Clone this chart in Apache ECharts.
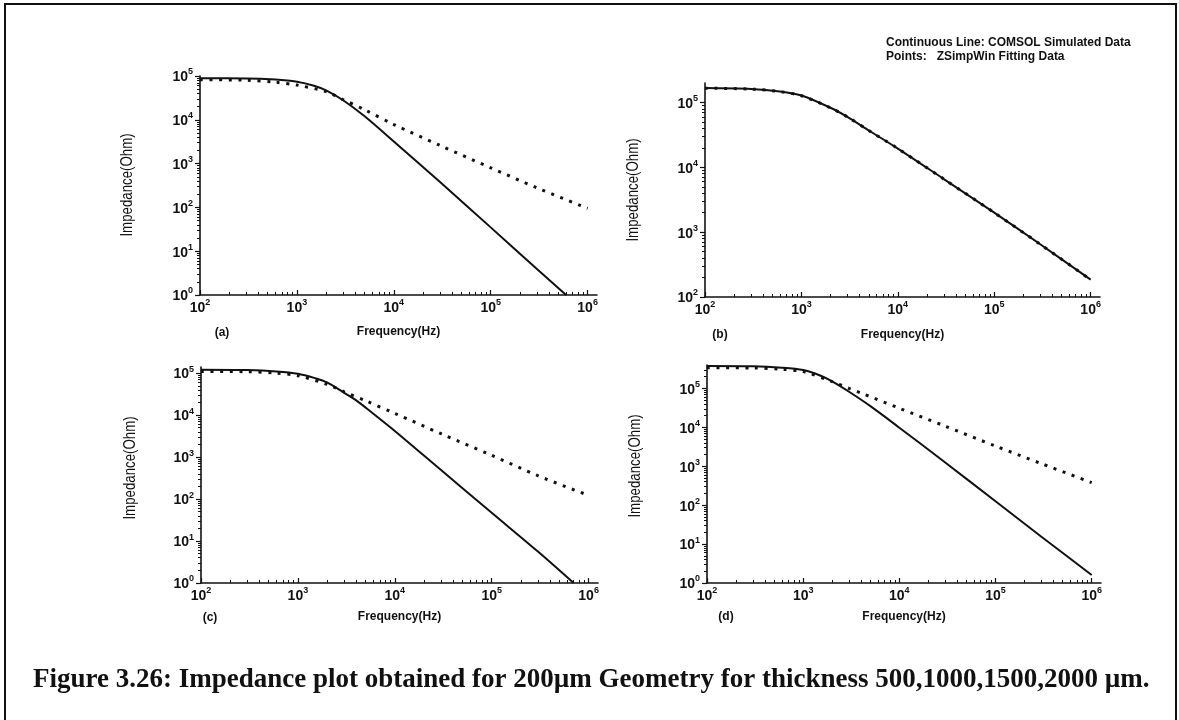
<!DOCTYPE html>
<html>
<head>
<meta charset="utf-8">
<script src="https://cdn.jsdelivr.net/npm/echarts@6/dist/echarts.min.js"></script>
<style>
  html, body { margin: 0; padding: 0; background: #fff; }
  #chart { width: 1179px; height: 720px; }
</style>
</head>
<body>
<div id="chart"></div>
<script>
// Impedance magnitude vs frequency, four electrode thicknesses (a)-(d).
// "sim" = COMSOL simulated (continuous line), "fit" = ZSimpWin fitting data (points).

// Panel (a)
const freqA_sim = [100, 300, 600, 1000, 1500, 2000, 3000, 5000, 10000, 30000, 100000, 300000, 600000];
const zA_sim    = [88500, 88000, 83000, 74000, 60000, 47000, 28000, 12000, 3200, 380, 35, 3.9, 1];
const freqA_fit = [100, 300, 600, 1000, 2000, 3000, 5000, 10000, 30000, 100000, 300000, 1000000];
const zA_fit    = [82000, 80000, 72000, 62000, 44000, 29000, 17000, 7800, 2600, 800, 280, 95];

// Panel (b)
const freqB_sim = [100, 300, 600, 1000, 2000, 3000, 5000, 10000, 30000, 100000, 300000, 1000000];
const zB_sim    = [167000, 162000, 148000, 128000, 83000, 60000, 37000, 19500, 6600, 2000, 650, 185];
const freqB_fit = [100, 300, 600, 1000, 2000, 3000, 5000, 10000, 30000, 100000, 300000, 1000000];
const zB_fit    = [166000, 161000, 147000, 127000, 83000, 60000, 37000, 19500, 6600, 2000, 650, 185];

// Panel (c)
const freqC_sim = [100, 300, 600, 1000, 1500, 2000, 3000, 4000, 6000, 10000, 30000, 100000, 300000, 700000];
const zC_sim    = [120000, 118000, 110000, 97000, 76000, 60000, 34000, 22500, 10800, 4200, 490, 47, 5.6, 1];
const freqC_fit = [100, 300, 600, 1000, 2000, 3000, 5000, 10000, 30000, 100000, 300000, 1000000];
const zC_fit    = [110000, 108000, 100000, 87000, 54000, 36000, 22000, 11000, 3600, 1100, 360, 122];

// Panel (d)
const freqD_sim = [100, 300, 600, 1000, 1500, 2000, 3000, 5000, 10000, 30000, 100000, 300000, 1000000];
const zD_sim    = [376000, 370000, 340000, 296000, 215000, 152000, 82000, 35000, 9800, 1250, 126, 15.5, 1.6];
const freqD_fit = [100, 300, 600, 1000, 2000, 3000, 4000, 10000, 30000, 100000, 300000, 1000000];
const zD_fit    = [340000, 335000, 310000, 270000, 150000, 100000, 76000, 31000, 10700, 3300, 1170, 380];

// Axis ranges
const xMin = 100, xMax = 1250000;
const yRanges = [[1, 100000], [100, 200000], [1, 140000], [1, 400000]];
const xMajor = [100, 1000, 10000, 100000, 1000000];
const panelTags = ['(a)', '(b)', '(c)', '(d)'];
const xTitle = 'Frequency(Hz)';
const yTitle = 'Impedance(Ohm)';
const legendLines = ['Continuous Line: COMSOL Simulated Data', 'Points:   ZSimpWin Fitting Data'];
const caption = 'Figure 3.26: Impedance plot obtained for 200\u00b5m Geometry for thickness 500,1000,1500,2000 \u00b5m.';

// plot-area boxes in pixels
const boxes = [
  { left: 200, top: 76,  width: 397, height: 219 },
  { left: 705, top: 83,  width: 395, height: 214 },
  { left: 201, top: 367, width: 397, height: 216 },
  { left: 707, top: 365, width: 394, height: 218 }
];
const xNameGaps = [31, 32, 28, 28];
const yTitlePos = [[127, 185], [633, 190], [130, 468], [635, 466]];
const tagPos = [[222, 333], [720, 335], [210, 618], [726, 617]];

const sans = '"Liberation Sans", Arial, sans-serif';

function decadesBetween(lo, hi) {
  const out = [];
  for (let e = Math.round(Math.log10(lo)); Math.pow(10, e) <= hi * 1.0001; e++) {
    const v = Math.pow(10, e);
    if (v >= lo * 0.9999) out.push(v);
  }
  return out;
}
function minorsBetween(lo, hi) {
  const out = [];
  for (let e = Math.floor(Math.log10(lo)); Math.pow(10, e) <= hi; e++) {
    for (let m = 2; m <= 9; m++) {
      const v = m * Math.pow(10, e);
      if (v > lo && v < hi) out.push(v);
    }
  }
  return out;
}
const richPow = {
  b: { fontSize: 14, fontWeight: 'bold', fontFamily: sans, color: '#111', lineHeight: 17, verticalAlign: 'bottom' },
  s: { fontSize: 9, fontWeight: 'bold', fontFamily: sans, color: '#111', lineHeight: 10, verticalAlign: 'top' }
};
function powLabel(v) {
  return '{b|10}{s|' + Math.round(Math.log10(v)) + '}';
}

const grids = [], xAxes = [], yAxes = [], series = [];
const sims = [[freqA_sim, zA_sim], [freqB_sim, zB_sim], [freqC_sim, zC_sim], [freqD_sim, zD_sim]];
const fits = [[freqA_fit, zA_fit], [freqB_fit, zB_fit], [freqC_fit, zC_fit], [freqD_fit, zD_fit]];

boxes.forEach((b, i) => {
  grids.push({ left: b.left, top: b.top, width: b.width, height: b.height, containLabel: false });
  const [yMin, yMax] = yRanges[i];
  // main x axis: decade ticks and labels
  xAxes.push({
    type: 'log', logBase: 10, gridIndex: i, min: xMin, max: xMax,
    name: xTitle, nameLocation: 'middle', nameGap: xNameGaps[i],
    nameTextStyle: { fontFamily: sans, fontWeight: 'bold', fontSize: 12, color: '#111' },
    axisLine: { lineStyle: { color: '#111', width: 1.6 } },
    axisTick: { inside: true, length: 5, lineStyle: { color: '#111', width: 1.2 }, customValues: xMajor },
    axisLabel: { customValues: xMajor, margin: 3, formatter: powLabel, rich: richPow },
    splitLine: { show: false }
  });
  // overlay x axis carrying the minor ticks
  xAxes.push({
    type: 'log', logBase: 10, gridIndex: i, min: xMin, max: xMax, position: 'bottom',
    axisLine: { show: false },
    axisTick: { inside: true, length: 3, lineStyle: { color: '#111', width: 1 }, customValues: minorsBetween(xMin, 1000000) },
    axisLabel: { show: false }, splitLine: { show: false }
  });
  const yMaj = decadesBetween(yMin, yMax);
  yAxes.push({
    type: 'log', logBase: 10, gridIndex: i, min: yMin, max: yMax,
    axisLine: { lineStyle: { color: '#111', width: 1.6 } },
    axisTick: { inside: false, length: 5, lineStyle: { color: '#111', width: 1.2 }, customValues: yMaj },
    axisLabel: { customValues: yMaj, margin: 7, formatter: powLabel, rich: richPow },
    splitLine: { show: false }
  });
  yAxes.push({
    type: 'log', logBase: 10, gridIndex: i, min: yMin, max: yMax, position: 'left',
    axisLine: { show: false },
    axisTick: { inside: false, length: 3, lineStyle: { color: '#111', width: 1 }, customValues: minorsBetween(yMin, yMax) },
    axisLabel: { show: false }, splitLine: { show: false }
  });
  series.push({
    type: 'line', xAxisIndex: 2 * i, yAxisIndex: 2 * i, smooth: 0.3, symbol: 'none',
    lineStyle: { color: '#111', width: 2 },
    data: sims[i][0].map((f, k) => [f, sims[i][1][k]]), z: 3
  });
  series.push({
    type: 'line', xAxisIndex: 2 * i, yAxisIndex: 2 * i, smooth: 0.3, symbol: 'none',
    lineStyle: { color: '#111', width: 3, type: [3, 6.6], cap: 'butt' },
    data: fits[i][0].map((f, k) => [f, fits[i][1][k]]), z: 4
  });
});

const graphic = [
  { type: 'rect', shape: { x: 5, y: 4, width: 1171, height: 760 }, style: { fill: 'none', stroke: '#111', lineWidth: 2 }, silent: true },
  { type: 'text', x: 886, y: 43, style: { text: legendLines[0], font: 'bold 12px ' + sans, fill: '#111', verticalAlign: 'middle' } },
  { type: 'text', x: 886, y: 57, style: { text: legendLines[1], font: 'bold 12px ' + sans, fill: '#111', verticalAlign: 'middle' } },
  { type: 'text', x: 33, y: 680, style: { text: caption, font: 'bold 27px "Liberation Serif", "Times New Roman", serif', fill: '#111', verticalAlign: 'middle' } }
];
tagPos.forEach((p, i) => {
  graphic.push({ type: 'text', x: p[0], y: p[1], style: { text: panelTags[i], font: 'bold 12px ' + sans, fill: '#111', align: 'center', verticalAlign: 'middle' } });
});
// rotated, narrow y-axis titles
yTitlePos.forEach((p) => {
  graphic.push({
    type: 'text', x: p[0], y: p[1], rotation: Math.PI / 2, scaleX: 0.78,
    style: { text: yTitle, font: '17px ' + sans, fill: '#111', align: 'center', verticalAlign: 'middle' }
  });
});

const chart = echarts.init(document.getElementById('chart'), null, { renderer: 'canvas' });
chart.setOption({
  backgroundColor: '#fff',
  animation: false,
  grid: grids,
  xAxis: xAxes,
  yAxis: yAxes,
  series: series,
  graphic: graphic
});
</script>
</body>
</html>
